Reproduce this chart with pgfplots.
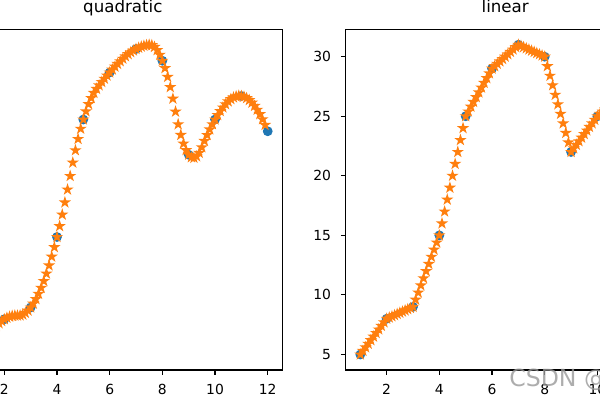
\documentclass[border=0pt]{standalone}
\usepackage{fontspec}
\setmainfont{DejaVu Sans}
\usepackage{pgfplots}
\usepackage{pgfplotstable}
\pgfplotsset{compat=1.18}
\definecolor{cZero}{HTML}{1F77B4}
\definecolor{cOne}{HTML}{FF7F0E}

% five-pointed filled star, like the '*' marker
\pgfdeclareplotmark{mplstar}{%
  \pgfpathmoveto{\pgfpointpolar{90}{\pgfplotmarksize}}%
  \pgfpathlineto{\pgfpointpolar{126}{0.382*\pgfplotmarksize}}%
  \pgfpathlineto{\pgfpointpolar{162}{\pgfplotmarksize}}%
  \pgfpathlineto{\pgfpointpolar{198}{0.382*\pgfplotmarksize}}%
  \pgfpathlineto{\pgfpointpolar{234}{\pgfplotmarksize}}%
  \pgfpathlineto{\pgfpointpolar{270}{0.382*\pgfplotmarksize}}%
  \pgfpathlineto{\pgfpointpolar{306}{\pgfplotmarksize}}%
  \pgfpathlineto{\pgfpointpolar{342}{0.382*\pgfplotmarksize}}%
  \pgfpathlineto{\pgfpointpolar{18}{\pgfplotmarksize}}%
  \pgfpathlineto{\pgfpointpolar{54}{0.382*\pgfplotmarksize}}%
  \pgfpathclose
  \pgfusepathqfillstroke}

\pgfplotstableread{
x y
1 5
2 8
3 9
4 15
5 25
6 29
7 31
8 30
9 22
10 25
11 27
12 24
}\pts

\pgfplotstableread{
x y
1.0 5.000
1.1 5.443
1.2 5.854
1.3 6.234
1.4 6.581
1.5 6.897
1.6 7.181
1.7 7.434
1.8 7.654
1.9 7.843
2.0 8.000
2.1 8.125
2.2 8.219
2.3 8.281
2.4 8.311
2.5 8.309
2.6 8.322
2.7 8.398
2.8 8.536
2.9 8.737
3.0 9.000
3.1 9.325
3.2 9.713
3.3 10.163
3.4 10.675
3.5 11.250
3.6 11.885
3.7 12.577
3.8 13.327
3.9 14.135
4.0 15.000
4.1 15.923
4.2 16.903
4.3 17.941
4.4 19.037
4.5 20.191
4.6 21.329
4.7 22.379
4.8 23.341
4.9 24.214
5.0 25.000
5.1 25.697
5.2 26.307
5.3 26.828
5.4 27.261
5.5 27.606
5.6 27.903
5.7 28.190
5.8 28.469
5.9 28.739
6.0 29.000
6.1 29.252
6.2 29.496
6.3 29.730
6.4 29.956
6.5 30.172
6.6 30.375
6.7 30.560
6.8 30.725
6.9 30.872
7.0 31.000
7.1 31.109
7.2 31.200
7.3 31.272
7.4 31.325
7.5 31.360
7.6 31.326
7.7 31.173
7.8 30.901
7.9 30.510
8.0 30.000
8.1 29.371
8.2 28.624
8.3 27.757
8.4 26.772
8.5 25.668
8.6 24.590
8.7 23.685
8.8 22.951
8.9 22.390
9.0 22.000
9.1 21.783
9.2 21.737
9.3 21.864
9.4 22.162
9.5 22.633
9.6 23.173
9.7 23.679
9.8 24.153
9.9 24.593
10.0 25.000
10.1 25.374
10.2 25.714
10.3 26.021
10.4 26.295
10.5 26.535
10.6 26.733
10.7 26.878
10.8 26.971
10.9 27.012
11.0 27.000
11.1 26.936
11.2 26.819
11.3 26.650
11.4 26.429
11.5 26.155
11.6 25.829
11.7 25.450
11.8 25.019
11.9 24.536
}\quad

\pgfplotstableread{
x y
1.0 5.0
1.1 5.3
1.2 5.6
1.3 5.9
1.4 6.2
1.5 6.5
1.6 6.8
1.7 7.1
1.8 7.4
1.9 7.7
2.0 8.0
2.1 8.1
2.2 8.2
2.3 8.3
2.4 8.4
2.5 8.5
2.6 8.6
2.7 8.7
2.8 8.8
2.9 8.9
3.0 9.0
3.1 9.6
3.2 10.2
3.3 10.8
3.4 11.4
3.5 12.0
3.6 12.6
3.7 13.2
3.8 13.8
3.9 14.4
4.0 15.0
4.1 16.0
4.2 17.0
4.3 18.0
4.4 19.0
4.5 20.0
4.6 21.0
4.7 22.0
4.8 23.0
4.9 24.0
5.0 25.0
5.1 25.4
5.2 25.8
5.3 26.2
5.4 26.6
5.5 27.0
5.6 27.4
5.7 27.8
5.8 28.2
5.9 28.6
6.0 29.0
6.1 29.2
6.2 29.4
6.3 29.6
6.4 29.8
6.5 30.0
6.6 30.2
6.7 30.4
6.8 30.6
6.9 30.8
7.0 31.0
7.1 30.9
7.2 30.8
7.3 30.7
7.4 30.6
7.5 30.5
7.6 30.4
7.7 30.3
7.8 30.2
7.9 30.1
8.0 30.0
8.1 29.2
8.2 28.4
8.3 27.6
8.4 26.8
8.5 26.0
8.6 25.2
8.7 24.4
8.8 23.6
8.9 22.8
9.0 22.0
9.1 22.3
9.2 22.6
9.3 22.9
9.4 23.2
9.5 23.5
9.6 23.8
9.7 24.1
9.8 24.4
9.9 24.7
10.0 25.0
10.1 25.2
10.2 25.4
10.3 25.6
10.4 25.8
10.5 26.0
10.6 26.2
10.7 26.4
10.8 26.6
10.9 26.8
11.0 27.0
11.1 26.7
11.2 26.4
11.3 26.1
11.4 25.8
11.5 25.5
11.6 25.2
11.7 24.9
11.8 24.6
11.9 24.3
}\lin

\pgfplotsset{
  mplax/.style={
    scale only axis,
    width=229.5pt, height=245.3pt,
    anchor=south west,
    xmin=0.45, xmax=12.55,
    xtick={2,4,6,8,10,12},
    ytick={5,10,15,20,25,30},
    axis line style={line width=0.8pt},
    tick style={line width=0.8pt, black},
    major tick length=3.5pt,
    tick align=outside,
    xtick pos=bottom, ytick pos=left,
    /pgf/number format/assume math mode=true,
    ticklabel style={font=\fontsize{10}{12}\selectfont},
    xticklabel style={anchor=north, inner sep=0pt, yshift=-6.5pt},
    yticklabel style={anchor=east, inner sep=0pt, xshift=-7pt},
    title style={at={(0.5,1)}, anchor=base, yshift=6pt, font=\fontsize{12}{14}\selectfont},
  },
  dots/.style={only marks, mark=*, mark size=3pt, mark options={fill=cZero, draw=cZero, line width=1pt}},
  stars/.style={only marks, mark=mplstar, mark size=3pt, mark options={fill=cOne, draw=cOne, line width=1pt}},
}

\begin{document}
\begin{tikzpicture}
% left panel: its y tick labels lie beyond the left edge of the crop
\begin{axis}[mplax, at={(-26.3pt,21.6pt)}, title={quadratic}, ymin=3.682, ymax=32.678, yticklabels={}]
\addplot[dots] table[x=x, y=y] {\pts};
\addplot[stars] table[x=x, y=y] {\quad};
\end{axis}
\begin{axis}[mplax, at={(249.0pt,21.6pt)}, title={linear}, ymin=3.7, ymax=32.3]
\addplot[dots] table[x=x, y=y] {\pts};
\addplot[stars] table[x=x, y=y] {\lin};
\end{axis}
\node[anchor=base west, text=black!40, opacity=0.8, inner sep=0pt, font=\fontsize{17}{20}\selectfont] at (366.5pt,9.8pt) {CSDN @};
\pgfresetboundingbox
\path[use as bounding box] (0pt,0pt) rectangle (432pt,288pt);
\end{tikzpicture}
\end{document}
